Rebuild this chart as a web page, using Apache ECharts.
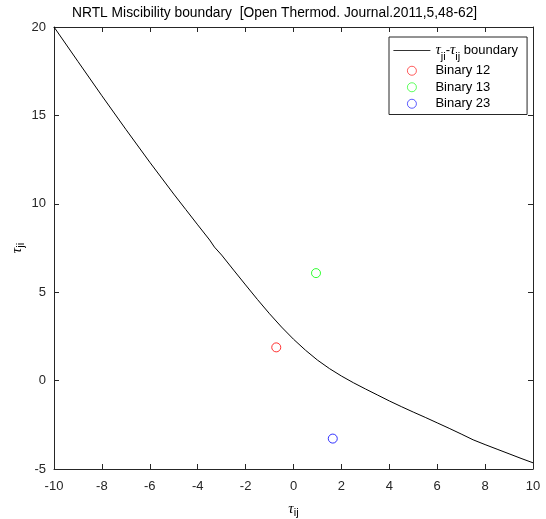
<!DOCTYPE html>
<html>
<head>
<meta charset="utf-8">
<script src="https://cdn.jsdelivr.net/npm/echarts@6/dist/echarts.min.js"></script>
<style>
  html, body { margin: 0; padding: 0; background: #fff; }
  #chart { width: 546px; height: 519px; }
</style>
</head>
<body>
<div id="chart"></div>
<script>
// NRTL miscibility boundary: tau_ji as a function of tau_ij
const boundaryTauIJ = [-10, -9, -8, -7, -6, -5, -4.5, -4, -3.5, -3.3, -3, -2.5, -2, -1.5, -1, -0.5,
  0, 0.5, 1, 1.5, 2, 2.5, 3, 3.5, 4, 4.5, 5, 5.5, 6, 6.5, 7, 7.5, 8, 8.5, 9, 9.5, 10];
const boundaryTauJI = [20, 18.05, 16.11, 14.21, 12.35, 10.55, 9.68, 8.81, 7.95, 7.55, 7.1, 6.25, 5.41, 4.58, 3.78, 3.03,
  2.34, 1.72, 1.16, 0.68, 0.26, -0.12, -0.47, -0.81, -1.15, -1.47, -1.78, -2.08, -2.39, -2.7, -3.02, -3.35,
  -3.62, -3.88, -4.14, -4.4, -4.65];

// Fitted parameters of the three binaries
const binaryNames = ['Binary 12', 'Binary 13', 'Binary 23'];
const binaryTauIJ = [-0.72, 0.94, 1.64];
const binaryTauJI = [1.88, 6.08, -3.28];
const binaryColors = ['#ff0000', '#00ff00', '#0000ff'];

// Region labels placed in data coordinates
const regionText = ['Heterog. LL region', 'Homog. L region'];
const regionTauIJ = [-4, -8];
const regionTauJI = [15, 0];

const xMin = -10, xMax = 10, xStep = 2;
const yMin = -5, yMax = 20, yStep = 5;

const boundaryName = 'tauji-tauij boundary';
const axisColor = '#262626';
const font = '"Liberation Sans", Arial, sans-serif';

const greekRich = {
  g: { fontFamily: '"Liberation Serif", serif', fontStyle: 'italic', fontSize: 15, color: '#000', lineHeight: 18, verticalAlign: 'middle' },
  s: { fontFamily: font, fontSize: 11, color: '#000', lineHeight: 11, verticalAlign: 'bottom', padding: [8, 0, 0, 0] }
};
const legendRich = {
  g: Object.assign({}, greekRich.g, { lineHeight: 23 }),
  s: greekRich.s,
  b: { fontFamily: font, fontSize: 13, color: '#000', verticalAlign: 'middle' }
};

const chart = echarts.init(document.getElementById('chart'), null, { renderer: 'canvas' });

const series = [
  {
    name: boundaryName,
    type: 'line',
    symbol: 'none',
    data: boundaryTauIJ.map((x, i) => [x, boundaryTauJI[i]]),
    lineStyle: { color: '#000', width: 1 },
    itemStyle: { color: '#000' },
    animation: false,
    z: 3
  }
];
binaryNames.forEach((name, i) => {
  series.push({
    name: name,
    type: 'scatter',
    symbol: 'circle',
    symbolSize: 9,
    data: [[binaryTauIJ[i], binaryTauJI[i]]],
    itemStyle: { color: 'rgba(0,0,0,0)', borderColor: binaryColors[i], borderWidth: 1 },
    animation: false,
    z: 4
  });
});
series.push({
  type: 'scatter',
  symbol: 'none',
  silent: true,
  data: regionText.map((t, i) => ({ value: [regionTauIJ[i], regionTauJI[i]], name: t })),
  label: {
    show: true,
    position: 'right',
    distance: 0,
    formatter: p => p.name,
    fontFamily: font,
    fontSize: 13,
    color: '#000'
  },
  animation: false
});

const legendData = [{ name: boundaryName, itemStyle: { opacity: 0 }, lineStyle: { width: 0.8 } }]
  .concat(binaryNames.map((n, i) => ({
    name: n,
    icon: 'circle',
    itemStyle: { color: 'rgba(0,0,0,0)', borderColor: binaryColors[i], borderWidth: 0.8 }
  })));

chart.setOption({
  backgroundColor: '#fff',
  animation: false,
  title: {
    text: 'NRTL Miscibility boundary  [Open Thermod. Journal.2011,5,48-62]',
    left: 72,
    top: 6,
    padding: 0,
    textStyle: { fontFamily: font, fontSize: 13.8, fontWeight: 'normal', color: '#000' }
  },
  grid: { left: 54, right: 13, top: 27, bottom: 50, containLabel: false, outerBoundsMode: 'none' },
  legend: {
    orient: 'vertical',
    left: 389,
    top: 37,
    padding: [2, 9, 3, 4],
    itemGap: 1,
    itemWidth: 37,
    itemHeight: 9,
    backgroundColor: '#fff',
    borderColor: axisColor,
    borderWidth: 1,
    borderRadius: 0,
    data: legendData,
    formatter: name => name === boundaryName ? '{g|τ}{s|ji}{b|-}{g|τ}{s|ij}{b| boundary}' : name,
    textStyle: {
      fontFamily: font,
      fontSize: 13,
      lineHeight: 15.5,
      color: '#000',
      rich: legendRich
    }
  },
  xAxis: [
    {
      type: 'value', min: xMin, max: xMax, interval: xStep,
      name: '{g|τ}{s|ij}',
      nameLocation: 'middle',
      nameGap: 31,
      nameTextStyle: { rich: greekRich },
      axisLine: { show: true, onZero: false, lineStyle: { color: axisColor, width: 1 } },
      axisTick: { show: true, inside: true, length: 5, lineStyle: { color: axisColor } },
      axisLabel: { margin: 11, fontFamily: font, fontSize: 13, color: axisColor },
      splitLine: { show: false }
    },
    {
      type: 'value', min: xMin, max: xMax, interval: xStep, position: 'top',
      axisLine: { show: true, onZero: false, lineStyle: { color: axisColor, width: 1 } },
      axisTick: { show: true, inside: true, length: 5, lineStyle: { color: axisColor } },
      axisLabel: { show: false },
      splitLine: { show: false }
    }
  ],
  yAxis: [
    {
      type: 'value', min: yMin, max: yMax, interval: yStep,
      name: '{g|τ}{s|ji}',
      nameLocation: 'middle',
      nameRotate: 90,
      nameGap: 28,
      nameMoveOverlap: false,
      nameTextStyle: { rich: greekRich },
      axisLine: { show: true, onZero: false, lineStyle: { color: axisColor, width: 1 } },
      axisTick: { show: true, inside: true, length: 5, lineStyle: { color: axisColor } },
      axisLabel: { margin: 8, fontFamily: font, fontSize: 13, color: axisColor },
      splitLine: { show: false }
    },
    {
      type: 'value', min: yMin, max: yMax, interval: yStep, position: 'right',
      axisLine: { show: true, onZero: false, lineStyle: { color: axisColor, width: 1 } },
      axisTick: { show: true, inside: true, length: 5, lineStyle: { color: axisColor } },
      axisLabel: { show: false },
      splitLine: { show: false }
    }
  ],
  series: series
});
</script>
</body>
</html>
